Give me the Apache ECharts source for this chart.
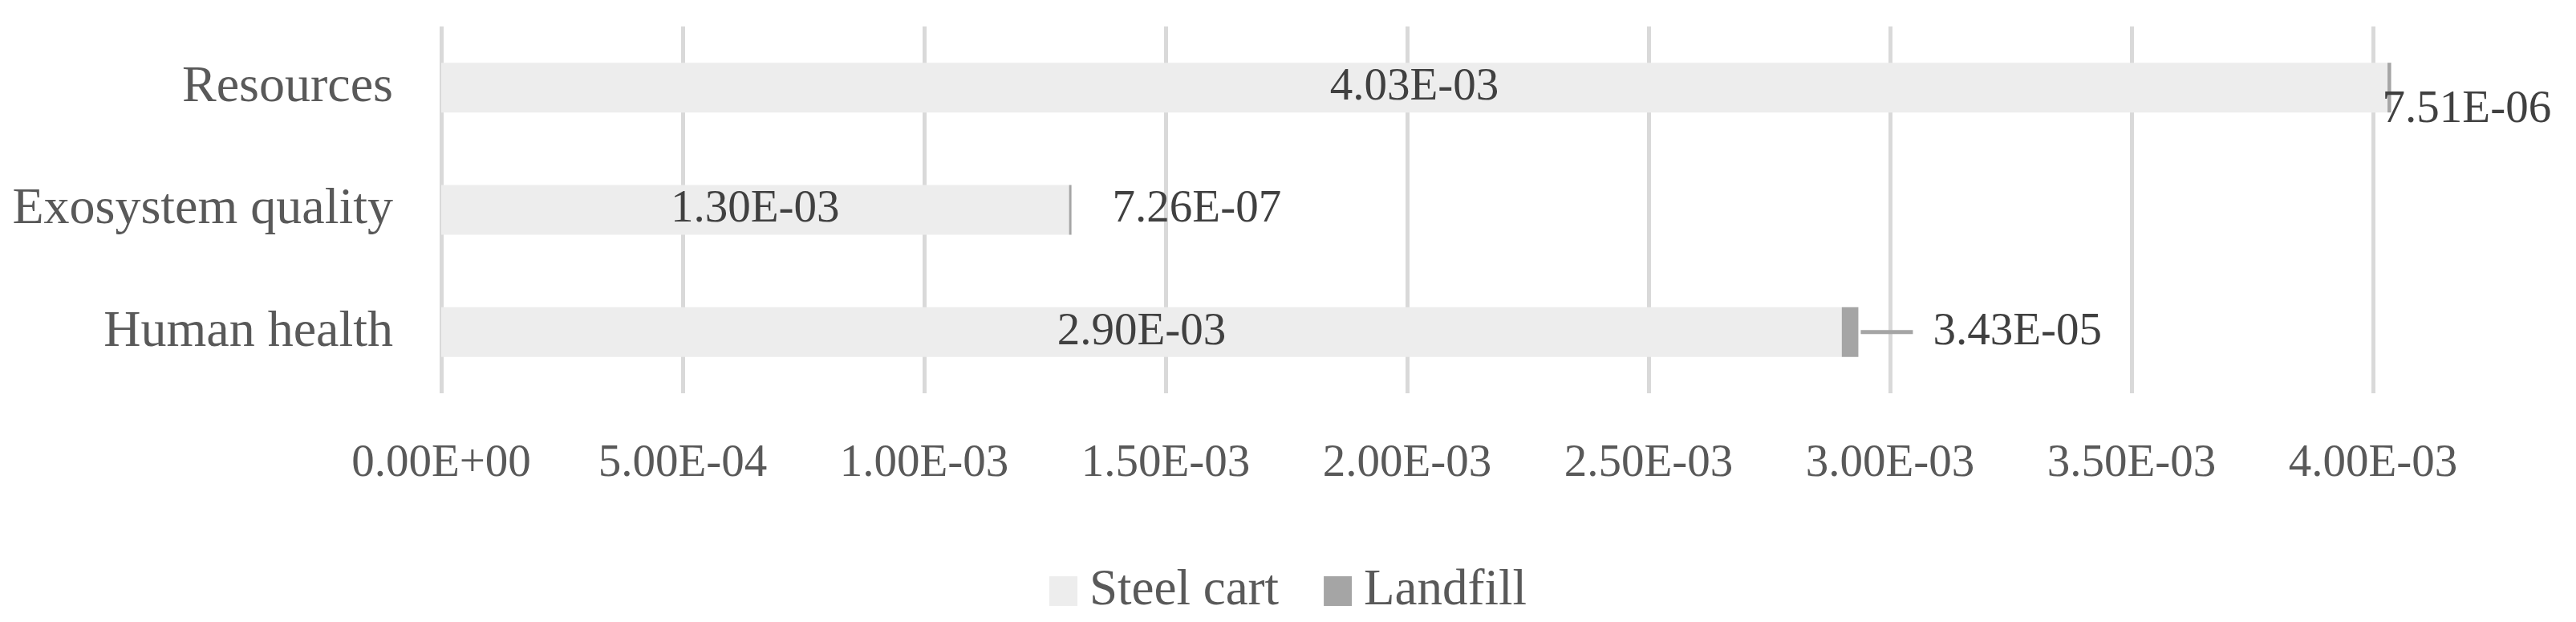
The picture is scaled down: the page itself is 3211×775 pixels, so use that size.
<!DOCTYPE html>
<html>
<head>
<meta charset="utf-8">
<script src="https://cdn.jsdelivr.net/npm/echarts@6/dist/echarts.min.js"></script>
<style>
  html, body { margin: 0; padding: 0; background: #fff; }
  #chart { width: 3211px; height: 775px; }
</style>
</head>
<body>
<div id="chart"></div>
<script>
const categories = ['Human health', 'Exosystem quality', 'Resources']
const steelCart = [2.90e-3, 1.30e-3, 4.03e-3]
const landfill = [3.43e-5, 7.26e-7, 7.51e-6]
const seriesNames = ['Steel cart', 'Landfill']

const font = 'Liberation Serif'

// Excel style scientific notation: 4.03E-03
function sci(v) {
    if (v === 0) return '0.00E+00'
    let parts = v.toExponential(2).toUpperCase().split('E')
    let exp = parseInt(parts[1], 10)
    let sign = exp < 0 ? '-' : '+'
    let abs = Math.abs(exp)
    return parts[0] + 'E' + sign + (abs < 10 ? '0' + abs : abs)
}

// label placement for the small landfill parts, one per category
const landfillLabels = [
    { offset: [0, 0], formatter: (p) => '{line|}{gap|}{val|' + sci(p.value) + '}' },
    { offset: [48, 0], formatter: (p) => sci(p.value) },
    { offset: [-14, 28], formatter: (p) => sci(p.value) }
]

let chart = echarts.init(document.getElementById('chart'))

chart.setOption({
    animation: false,
    textStyle: { fontFamily: font },
    grid: { left: 550, right: 253, top: 33, bottom: 285 },
    legend: {
        data: seriesNames,
        left: 'center',
        top: 700,
        icon: 'rect',
        itemWidth: 35,
        itemHeight: 37,
        itemGap: 56,
        textStyle: { fontFamily: font, fontSize: 63, color: '#595959', padding: [0, 0, 0, 10] }
    },
    xAxis: {
        type: 'value',
        min: 0,
        max: 0.004,
        interval: 0.0005,
        axisLine: { show: false },
        axisTick: { show: false },
        splitLine: { lineStyle: { color: '#d9d9d9', width: 5 } },
        axisLabel: {
            margin: 60,
            fontFamily: font,
            fontSize: 57,
            color: '#595959',
            formatter: sci
        }
    },
    yAxis: {
        type: 'category',
        data: categories,
        axisLine: { show: false },
        axisTick: { show: false },
        splitLine: { show: false },
        axisLabel: { margin: 60, fontFamily: font, fontSize: 64, color: '#595959' }
    },
    series: [
        {
            name: seriesNames[0],
            type: 'bar',
            stack: 'total',
            barWidth: 62,
            clip: false,
            data: steelCart,
            itemStyle: { color: '#ededed' },
            label: {
                show: true,
                position: 'inside',
                fontFamily: font,
                fontSize: 57,
                color: '#404040',
                formatter: (p) => sci(p.value)
            }
        },
        {
            name: seriesNames[1],
            type: 'bar',
            stack: 'total',
            barWidth: 62,
            barMinHeight: 3,
            clip: false,
            itemStyle: { color: '#a5a5a5' },
            data: landfill.map((v, i) => ({
                value: v,
                label: {
                    show: true,
                    position: 'right',
                    distance: 3,
                    offset: landfillLabels[i].offset,
                    formatter: landfillLabels[i].formatter,
                    fontFamily: font,
                    fontSize: 57,
                    color: '#404040',
                    rich: {
                        line: { width: 65, height: 5, backgroundColor: '#a5a5a5' },
                        gap: { width: 25 },
                        val: { fontFamily: font, fontSize: 57, color: '#404040' }
                    }
                }
            }))
        }
    ]
})
</script>
</body>
</html>
